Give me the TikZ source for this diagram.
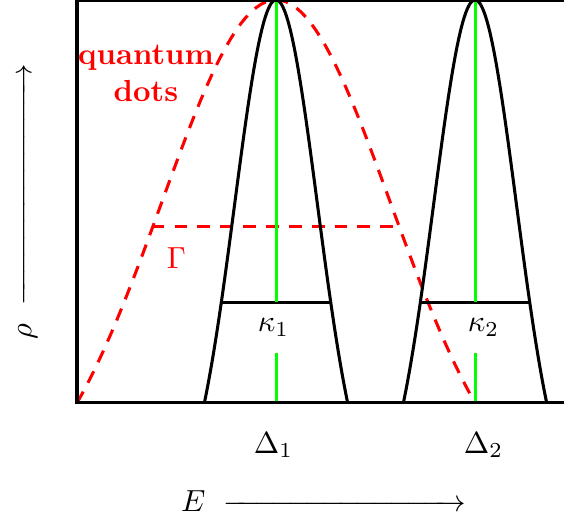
\documentclass[tikz,border=0pt]{standalone}
\usepackage{amsmath}
\usepackage{xcolor}
\usepackage{tikz}
\usetikzlibrary{positioning}
\definecolor{dotred}{HTML}{FF0000}
\definecolor{linegreen}{HTML}{00FF00}
\tikzset{
  axisframe/.style={draw=black, line width=1pt},
  cavity/.style={draw=black, line width=1pt, smooth},
  qdcurve/.style={draw=dotred, line width=1pt, dash pattern=on 4.2pt off 3.3pt},
  centre/.style={draw=linegreen, line width=1pt},
  width/.style={draw=black, line width=1pt},
  lbl/.style={inner sep=0pt},
}

\begin{document}
\begin{tikzpicture}[x=1.147cm, y=1.161cm,
  declare function={dos(\u)=4*(exp(-1.5*\u*\u)-exp(-1.5))/(1-exp(-1.5));}]
  \useasboundingbox (-0.774,-1.151) rectangle (4.894,4);
  \clip (-0.774,-1.151) rectangle (4.894,4);

  \coordinate (o) at (0,0);
  \coordinate (d1) at (2,0);
  \coordinate (d2) at (4,0);

  % broad quantum dot band
  \draw[qdcurve] plot[domain=-1:1, samples=81] ({2+2*\x},{dos(\x)});
  \draw[qdcurve] (0.75,1.75) -- (3.2,1.75);

  % cavity modes
  \draw[cavity] plot[domain=-1:1, samples=61] ({2+0.72*\x},{dos(\x)});
  \draw[cavity] plot[domain=-1:1, samples=61] ({4+0.72*\x},{dos(\x)});
  \draw[width] (1.447,1) -- (2.553,1);
  \draw[width] (3.447,1) -- (4.553,1);

  \draw[centre] (2,4) -- (2,1);
  \draw[centre] (2,0.5) -- (d1);
  \draw[centre] (4,4) -- (4,1);
  \draw[centre] (4,0.5) -- (d2);

  \draw[axisframe] (o) rectangle (5.5,4);

  \node[lbl] (k1) at (1.975,0.75) {$\kappa_1$};
  \node[lbl] (k2) at (4.085,0.75) {$\kappa_2$};
  \node[lbl] (D1) at (1.975,-0.42) {$\Delta_1$};
  \node[lbl] (D2) at (4.085,-0.42) {$\Delta_2$};
  \node[lbl, text=dotred] (G) at (1,1.44) {$\Gamma$};
  \node[lbl, text=dotred, font=\bfseries, align=center] (qd) at (0.693,3.27) {quantum\\dots};

  \node[lbl] (Eax) at (2.477,-0.98) {$E\ \xrightarrow{\hspace{73pt}}$};
  \node[lbl, rotate=90] (rhoax) at (-0.53,2.0) {$\rho\ \xrightarrow{\hspace{73pt}}$};
\end{tikzpicture}
\end{document}
